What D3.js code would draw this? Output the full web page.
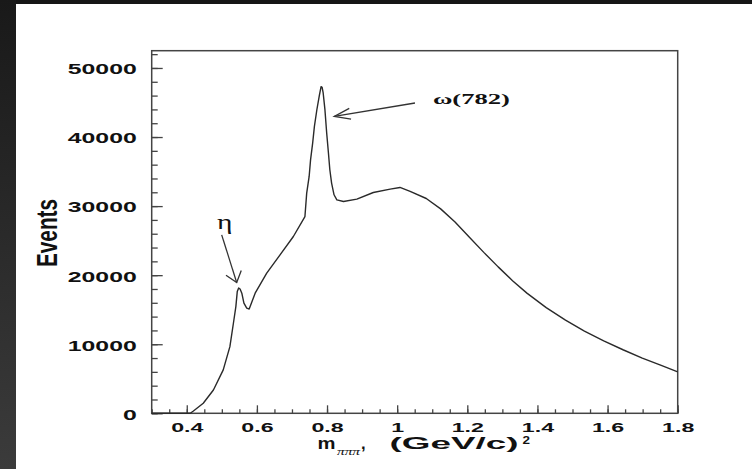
<!DOCTYPE html>
<html>
<head>
<meta charset="utf-8">
<script src="https://cdn.jsdelivr.net/npm/d3@7"></script>
<style>
  html, body { margin: 0; padding: 0; background: #1a1a1a; }
  svg { display: block; }
</style>
</head>
<body>
<script>
// ---- Data ----
const mass = [0.30, 0.41, 0.419, 0.447, 0.476, 0.504, 0.523, 0.533, 0.540, 0.544, 0.548, 0.552, 0.557, 0.563, 0.571, 0.578,
  0.595, 0.628, 0.666, 0.704, 0.737, 0.742, 0.749, 0.753, 0.759, 0.764, 0.771, 0.778, 0.783, 0.786, 0.789, 0.794, 0.799,
  0.804, 0.808, 0.813, 0.820, 0.828, 0.847, 0.885, 0.932, 0.980, 1.008, 1.037, 1.083, 1.124, 1.165, 1.206, 1.247, 1.288,
  1.329, 1.370, 1.425, 1.480, 1.534, 1.589, 1.644, 1.699, 1.753, 1.800];
const events = [0, 0, 330, 1450, 3380, 6280, 9650, 13040, 15450, 17620, 18150, 18000, 17390, 15940, 15220, 15100,
  17390, 20290, 22940, 25600, 28490, 31880, 34290, 36700, 39130, 41540, 43950, 46000, 47300, 47200, 46380, 43960, 40580,
  37680, 35260, 33330, 31640, 30910, 30670, 31010, 31970, 32460, 32700, 32120, 31100, 29600, 27700, 25500, 23300, 21200,
  19200, 17400, 15300, 13500, 11900, 10500, 9200, 8000, 6950, 6000];
const xTickLabels = [0.4, 0.6, 0.8, 1.0, 1.2, 1.4, 1.6, 1.8];
const yTickLabels = [0, 10000, 20000, 30000, 40000, 50000];
const xDomain = [0.3, 1.8];
const yDomain = [0, 52500];
// annotations (data units)
const annoLabels = ["ω(782)", "η"];
const annoText = [[1.102, 44830], [0.4865, 26670]];
const annoFrom = [[1.0508, 44928], [0.4996, 25841]];
const annoTo = [[0.8207, 42986], [0.5424, 18928]];

// ---- Layout ----
const W = 752, H = 469;
const plot = { left: 151.7, right: 677.7, top: 50.7, bottom: 413.3 };

const svg = d3.select("body").append("svg").attr("width", W).attr("height", H);
const defs = svg.append("defs");
const grad = defs.append("linearGradient").attr("id", "lg").attr("x1", 0).attr("y1", 0).attr("x2", 0).attr("y2", 1);
grad.append("stop").attr("offset", "0%").attr("stop-color", "#191919");
grad.append("stop").attr("offset", "100%").attr("stop-color", "#3b3b3b");

svg.append("rect").attr("x", 0).attr("y", 0).attr("width", W).attr("height", H).attr("fill", "#161616");
svg.append("rect").attr("x", 0).attr("y", 0).attr("width", 16).attr("height", H).attr("fill", "url(#lg)");
svg.append("rect").attr("x", 16).attr("y", 4).attr("width", W - 16).attr("height", H - 4).attr("fill", "#ffffff");

const x = d3.scaleLinear().domain(xDomain).range([plot.left, plot.right]);
const y = d3.scaleLinear().domain(yDomain).range([plot.bottom, plot.top]);

const ink = "#2a2a2a";

function stretch(sel, k) {
  sel.each(function () {
    const n = this.getComputedTextLength();
    d3.select(this).attr("textLength", n * k).attr("lengthAdjust", "spacingAndGlyphs");
  });
}

// ---- Frame ----
svg.append("rect").attr("x", plot.left).attr("y", plot.top)
  .attr("width", plot.right - plot.left).attr("height", plot.bottom - plot.top)
  .attr("fill", "none").attr("stroke", "#444").attr("stroke-width", 1.5);

// ---- X axis ticks (inward) ----
const xMinor = d3.range(0, 31).map(i => +(0.3 + i * 0.05).toFixed(2));
const xAxis = d3.axisBottom(x).tickValues(xMinor).tickSizeInner(-4).tickSizeOuter(0).tickFormat("");
const gx = svg.append("g").attr("transform", `translate(0,${plot.bottom})`).call(xAxis);
gx.select(".domain").remove();
gx.selectAll(".tick line").attr("stroke", "#444").attr("stroke-width", 1.3);
const xAxisMajor = d3.axisBottom(x).tickValues(xTickLabels).tickSizeInner(-8).tickSizeOuter(0)
  .tickFormat(d => d === 1 ? "1" : d.toFixed(1));
const gx2 = svg.append("g").attr("transform", `translate(0,${plot.bottom})`).call(xAxisMajor);
gx2.select(".domain").remove();
gx2.selectAll(".tick line").attr("stroke", "#444").attr("stroke-width", 1.3);
gx2.selectAll(".tick text").attr("y", 18.5).attr("dy", 0)
  .attr("font-family", "'Liberation Sans', Arial, sans-serif").attr("font-weight", "bold")
  .attr("font-size", 13.5).attr("fill", "#111").call(stretch, 1.72);

// ---- Y axis ticks (inward) ----
const yMinor = d3.range(0, 27).map(i => i * 2000);
const yAxis = d3.axisLeft(y).tickValues(yMinor).tickSizeInner(-6).tickSizeOuter(0).tickFormat("");
const gy = svg.append("g").attr("transform", `translate(${plot.left},0)`).call(yAxis);
gy.select(".domain").remove();
gy.selectAll(".tick line").attr("stroke", "#444").attr("stroke-width", 1.3);
const yAxisMajor = d3.axisLeft(y).tickValues(yTickLabels).tickSizeInner(-11).tickSizeOuter(0).tickFormat(d => String(d));
const gy2 = svg.append("g").attr("transform", `translate(${plot.left},0)`).call(yAxisMajor);
gy2.select(".domain").remove();
gy2.selectAll(".tick line").attr("stroke", "#444").attr("stroke-width", 1.3);
gy2.selectAll(".tick text").attr("x", -15).attr("dy", "0.42em")
  .attr("font-family", "'Liberation Sans', Arial, sans-serif").attr("font-weight", "bold")
  .attr("font-size", 14).attr("fill", "#111").call(stretch, 1.77);

// ---- Histogram line ----
const pts = mass.map((m, i) => [m, events[i]]);
svg.append("path").datum(pts)
  .attr("d", d3.line().x(d => x(d[0])).y(d => y(d[1])).curve(d3.curveLinear))
  .attr("fill", "none").attr("stroke", ink).attr("stroke-width", 1.4).attr("stroke-linejoin", "round");

// ---- Axis titles ----
svg.append("text").attr("transform", "translate(56.5,233) rotate(-90)")
  .attr("text-anchor", "middle").attr("font-family", "'Liberation Sans', Arial, sans-serif")
  .attr("font-weight", "bold").attr("font-size", 29).attr("fill", "#111")
  .attr("textLength", 68).attr("lengthAdjust", "spacingAndGlyphs").text("Events");

const xt = svg.append("g").attr("fill", "#111");
xt.append("text").attr("x", 317.5).attr("y", 449).attr("font-family", "'Liberation Sans', Arial, sans-serif")
  .attr("font-weight", "bold").attr("font-size", 16.5).attr("textLength", 18).attr("lengthAdjust", "spacingAndGlyphs").text("m");
xt.append("text").attr("x", 337).attr("y", 454.5).attr("font-family", "'Liberation Serif', 'Times New Roman', serif")
  .attr("font-style", "italic").attr("font-size", 10).attr("textLength", 23).attr("lengthAdjust", "spacingAndGlyphs").text("πππ");
xt.append("text").attr("x", 361).attr("y", 449).attr("font-family", "'Liberation Sans', Arial, sans-serif")
  .attr("font-weight", "bold").attr("font-size", 16.5).text(",");
xt.append("text").attr("x", 389.5).attr("y", 449).attr("font-family", "'Liberation Sans', Arial, sans-serif")
  .attr("font-weight", "bold").attr("font-size", 16.5).attr("textLength", 129).attr("lengthAdjust", "spacingAndGlyphs").text("(GeV/c)");
xt.append("text").attr("x", 522.5).attr("y", 443.5).attr("font-family", "'Liberation Sans', Arial, sans-serif")
  .attr("font-weight", "bold").attr("font-size", 10).attr("textLength", 7.5).attr("lengthAdjust", "spacingAndGlyphs").text("2");

// ---- Annotations ----
const annoStyle = [
  { size: 15, len: 77, head: 17, ang: 19 },
  { size: 20, len: 15.5, head: 13, ang: 38 }
];
annoLabels.forEach((lab, i) => {
  const st = annoStyle[i];
  svg.append("text").attr("x", x(annoText[i][0])).attr("y", y(annoText[i][1]))
    .attr("font-family", "'Liberation Serif', 'Times New Roman', serif").attr("font-weight", i === 0 ? "bold" : "normal")
    .attr("font-size", st.size).attr("fill", "#111")
    .attr("textLength", st.len).attr("lengthAdjust", "spacingAndGlyphs").text(lab);
  const x0 = x(annoFrom[i][0]), y0 = y(annoFrom[i][1]);
  const x1 = x(annoTo[i][0]), y1 = y(annoTo[i][1]);
  const a = Math.atan2(y0 - y1, x0 - x1);
  const r = st.ang * Math.PI / 180;
  const g = svg.append("g").attr("stroke", "#333").attr("stroke-width", 1.3).attr("fill", "none");
  g.append("line").attr("x1", x0).attr("y1", y0).attr("x2", x1).attr("y2", y1);
  const p = d3.path();
  p.moveTo(x1 + st.head * Math.cos(a - r), y1 + st.head * Math.sin(a - r));
  p.lineTo(x1, y1);
  p.lineTo(x1 + st.head * Math.cos(a + r), y1 + st.head * Math.sin(a + r));
  g.append("path").attr("d", p.toString());
});
</script>
</body>
</html>
